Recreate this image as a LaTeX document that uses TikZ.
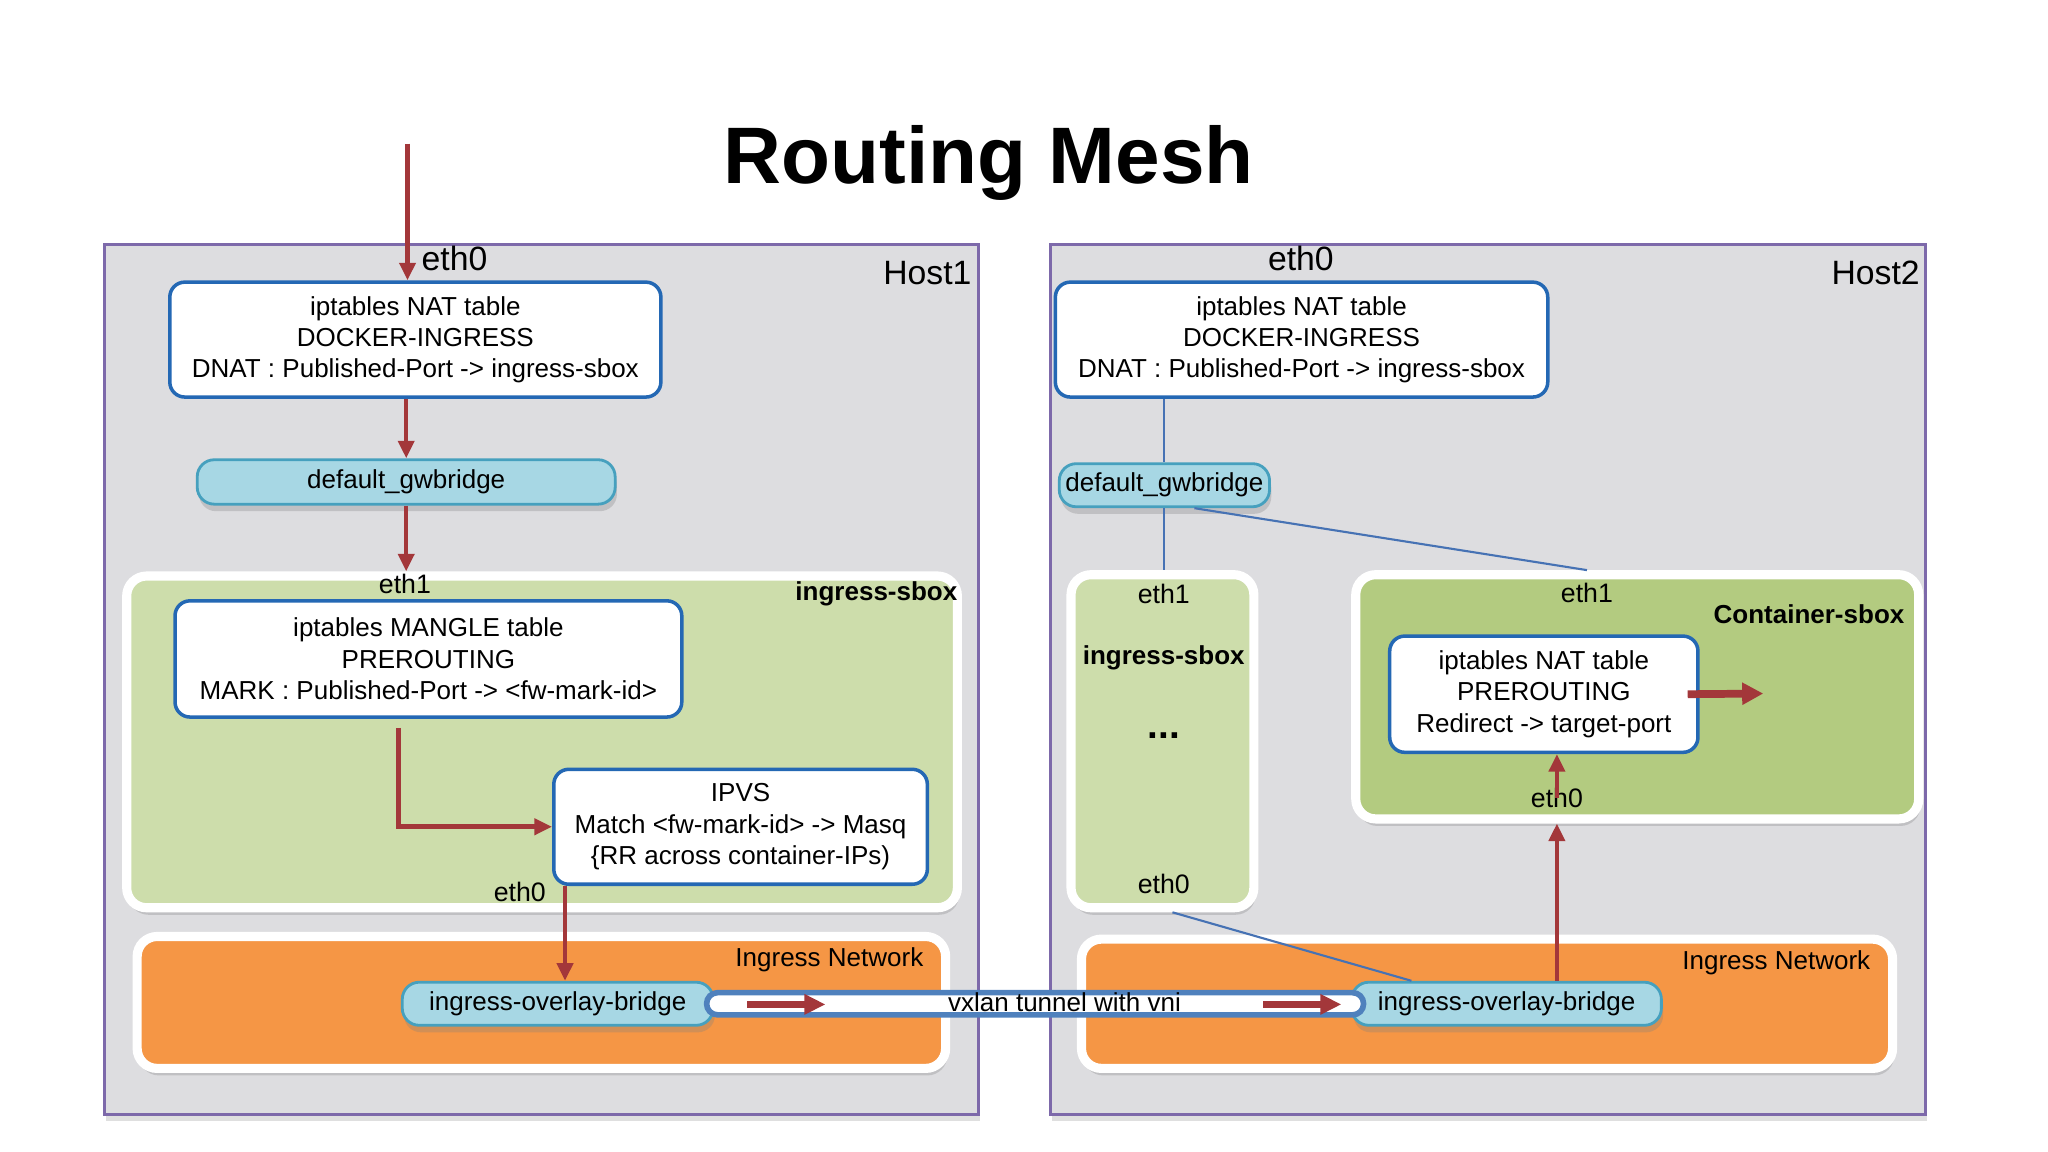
\documentclass[tikz,border=0pt]{standalone}
\usepackage{fontspec}
\setmainfont{Liberation Sans}
\usetikzlibrary{positioning, shadows, arrows.meta}
\definecolor{hostgray}{RGB}{221,221,224}
\definecolor{hostline}{RGB}{125,105,170}
\definecolor{sboxgreen}{RGB}{205,221,171}
\definecolor{contgreen}{RGB}{179,203,128}
\definecolor{netorange}{RGB}{245,150,69}
\definecolor{bridgeblue}{RGB}{167,215,228}
\definecolor{bridgeline}{RGB}{70,160,190}
\definecolor{natline}{RGB}{36,104,180}
\definecolor{flowred}{RGB}{163,55,58}
\definecolor{tunnelblue}{RGB}{79,129,189}
\definecolor{linkblue}{RGB}{70,114,180}
\newcommand\tabfont{\fontsize{7.4}{8.9}\selectfont}
\newcommand\ethfont{\fontsize{7.6}{9}\selectfont}
\newcommand\hostfont{\fontsize{9.6}{11}\selectfont}
\tikzset{dims/.style 2 args={minimum width=#1*0.013061cm, minimum height=#2*0.013061cm}}
\tikzstyle{host} = [draw=hostline, fill=hostgray, line width=0.8pt, inner sep=0pt, drop shadow={shadow xshift=0.5pt, shadow yshift=-2pt, opacity=0.25}]
\tikzstyle{frame} = [draw=white, line width=2.6pt, rounded corners=0.2cm, inner sep=0pt, drop shadow={shadow xshift=0.5pt, shadow yshift=-2pt, opacity=0.3}]
\tikzstyle{table} = [draw=natline, fill=white, line width=1pt, rounded corners=0.15cm, inner sep=0pt, align=center, font=\tabfont]
\tikzstyle{bridge} = [draw=bridgeline, fill=bridgeblue, line width=0.8pt, rounded corners=0.17cm, inner sep=0pt, font=\tabfont, drop shadow={shadow xshift=0.5pt, shadow yshift=-2pt, opacity=0.3}]
\tikzstyle{flow} = [draw=flowred, line width=1.3pt, -{Triangle[length=5pt,width=4.5pt]}]
\tikzstyle{link} = [draw=linkblue, line width=0.6pt]

\begin{document}
\begin{tikzpicture}[x=0.013061cm, y=-0.013061cm]
\useasboundingbox (0,0) rectangle (1568,882);
\node[font=\fontsize{22.8}{26}\selectfont\bfseries] (title) at (757,125) {Routing Mesh};

\node[host, dims={669}{666}] (host1) at (414.5,520) {};
\node[host, dims={670}{666}] (host2) at (1139,520) {};
\node[font=\hostfont] at (710,209) {Host1};
\node[font=\hostfont] at (1436,209) {Host2};
\node[font=\hostfont] (h1eth0) at (348,198) {eth0};
\node[font=\hostfont] (h2eth0) at (996,198) {eth0};

\node[frame, fill=sboxgreen, dims={636}{254}] (sbox1) at (415,568) {};
\node[frame, fill=netorange, dims={619}{101}] (net1) at (414.5,767.5) {};
\node[frame, fill=sboxgreen, dims={140}{255}] (sbox2) at (890,567.5) {};
\node[frame, fill=contgreen, dims={431}{187}] (cont) at (1253.5,533.5) {};
\node[frame, fill=netorange, dims={621}{99}] (net2) at (1138.5,768.5) {};

\node[table, dims={376}{88}] (nat1) at (318,260) {iptables NAT table\\DOCKER-INGRESS\\DNAT : Published-Port -> ingress-sbox};
\node[bridge, dims={320}{34}] (gw1) at (311,369) {default\_gwbridge};
\node[table, dims={388}{89}] (mangle) at (328,504.5) {iptables MANGLE table\\PREROUTING\\MARK : Published-Port -> <fw-mark-id>};
\node[table, dims={286}{88}] (ipvs) at (567,633) {IPVS\\Match <fw-mark-id> -> Masq\\\{RR across container-IPs)};
\node[bridge, dims={238}{33}] (ovl1) at (427,768.5) {ingress-overlay-bridge};
\node[font=\ethfont] (s1eth1) at (310,447) {eth1};
\node[font=\tabfont\bfseries] at (671,455) {ingress-sbox};
\node[font=\ethfont] (s1eth0) at (398,683) {eth0};
\node[font=\tabfont] at (635,735) {Ingress Network};

\node[table, dims={377}{88}] (nat2) at (996.5,260) {iptables NAT table\\DOCKER-INGRESS\\DNAT : Published-Port -> ingress-sbox};
\node[bridge, dims={161}{33}] (gw2) at (891.5,371.5) {default\_gwbridge};
\node[table, dims={236}{89}] (nat3) at (1182,531.5) {iptables NAT table\\PREROUTING\\Redirect -> target-port};
\node[bridge, dims={237}{33}] (ovl2) at (1153.5,768.5) {ingress-overlay-bridge};
\node[font=\ethfont] (s2eth1) at (891,455) {eth1};
\node[font=\tabfont\bfseries] at (891,504) {ingress-sbox};
\node[font=\fontsize{11}{12}\selectfont\bfseries] at (891,563) {...};
\node[font=\ethfont] (s2eth0) at (891,677) {eth0};
\node[font=\ethfont] (ceth1) at (1215,454) {eth1};
\node[font=\tabfont\bfseries] at (1385,470) {Container-sbox};
\node[font=\ethfont] (ceth0) at (1192,611) {eth0};
\node[font=\tabfont] at (1360,737) {Ingress Network};

\coordinate (in) at (312,110);
\coordinate (out) at (1350,531);
\draw[flow] (in) -- (in |- nat1.north);
\draw[flow] (gw1.north |- nat1.south) -- (gw1.north);
\draw[flow] (gw1.south) -- (gw1.south |- sbox1.north);
\draw[flow] ([xshift=-0.3cm, yshift=-0.09cm]mangle.south) |- (ipvs);
\draw[flow] ([xshift=0.13cm]ipvs.south west) -- ([xshift=0.13cm]ipvs.south west |- ovl1.north);
\draw[flow, line width=2.2pt, -{Triangle[length=6pt,width=6pt]}] ([xshift=-0.12cm]nat3.east) -- (out);
\draw[flow] (ceth0.center) -- (ceth0 |- nat3.south);
\draw[flow] (ceth0 |- ovl2.north) -- (ceth0 |- cont.south);

\draw[link] (gw2.north |- nat2.south) -- (gw2.north);
\draw[link] (gw2.south) -- (gw2.south |- sbox2.north);
\draw[link] ([xshift=0.3cm]gw2.south) -- (ceth1 |- cont.north);
\draw[link] ([xshift=0.1cm]sbox2.south) -- ([xshift=0.61cm]ovl2.north west);

\node[draw=tunnelblue, fill=white, line width=1.6pt, rounded corners=0.11cm, inner sep=0pt, dims={503}{17}] (tunnel) at (792.5,768.5) {};
\node[font=\tabfont] (vxlan) at (815,767) {vxlan tunnel with vni};
\coordinate (t1a) at (572,769);
\coordinate (t1b) at (632,769);
\coordinate (t2a) at (967,769);
\coordinate (t2b) at (1027,769);
\draw[flow, line width=1.8pt, -{Triangle[length=6pt,width=5.5pt]}] (t1a) -- (t1b);
\draw[flow, line width=1.8pt, -{Triangle[length=6pt,width=5.5pt]}] (t2a) -- (t2b);
\end{tikzpicture}
\end{document}
